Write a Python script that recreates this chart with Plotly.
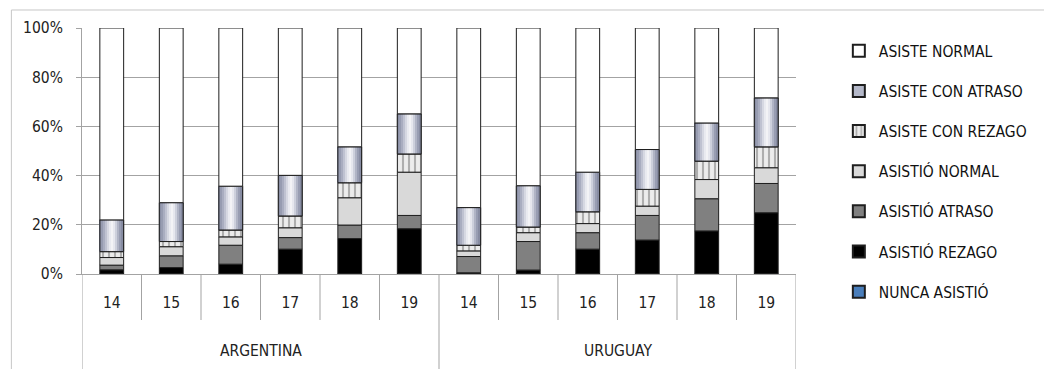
import plotly.graph_objects as go

# Age groups per country (Argentina first, then Uruguay)
countries = ["ARGENTINA"] * 6 + ["URUGUAY"] * 6
ages = ["14", "15", "16", "17", "18", "19"] * 2

# Share of youths (%) in each schooling situation, bottom of the stack first
nunca_asistio = [0.2, 0.2, 0.2, 0.2, 0.2, 0.2, 0.2, 0.2, 0.2, 0.2, 0.2, 0.2]
asistio_rezago = [1.5, 2.4, 3.8, 9.9, 14.2, 18.2, 0.3, 1.4, 9.9, 13.6, 17.3, 24.7]
asistio_atraso = [1.9, 4.8, 7.7, 4.7, 5.5, 5.4, 6.6, 11.6, 6.7, 10.0, 13.1, 11.9]
asistio_normal = [3.1, 3.7, 3.4, 4.0, 11.1, 17.6, 2.3, 3.6, 3.7, 3.8, 7.8, 6.4]
asiste_con_rezago = [2.4, 2.1, 2.8, 4.8, 6.1, 7.4, 2.3, 2.3, 4.8, 6.8, 7.5, 8.5]
asiste_con_atraso = [12.9, 15.8, 17.8, 16.5, 14.6, 16.3, 15.3, 16.8, 16.1, 16.2, 15.5, 19.9]
asiste_normal = [78.0, 71.0, 64.3, 59.9, 48.3, 34.9, 73.0, 64.1, 58.6, 49.4, 38.6, 28.4]

# Value-axis ticks
pct_ticks = [0, 20, 40, 60, 80, 100]
pct_labels = ["0%", "20%", "40%", "60%", "80%", "100%"]

series = [
    ("NUNCA ASISTIÓ", nunca_asistio),
    ("ASISTIÓ REZAGO", asistio_rezago),
    ("ASISTIÓ ATRASO", asistio_atraso),
    ("ASISTIÓ NORMAL", asistio_normal),
    ("ASISTE CON REZAGO", asiste_con_rezago),
    ("ASISTE CON ATRASO", asiste_con_atraso),
    ("ASISTE NORMAL", asiste_normal),
]

FONT = "Liberation Sans Narrow, Arial Narrow, DejaVu Sans Condensed, sans-serif"
FS = 15.5
GRID = "#a3a3a3"
EDGE = "#1e1e1e"
BAR_W = 0.4

x = list(range(len(ages)))

# Cylinder-like shading for the "con atraso" segment, left to right
shade = ["#8b90a6", "#979cb1", "#a9adc0", "#bfc2d1", "#d6d8e2", "#e9eaf0",
         "#f3f3f6", "#e6e7ee", "#cdd0dc", "#b0b4c5", "#989db2", "#878ca2"]

solid_fill = {
    "NUNCA ASISTIÓ": "#4a7ebb",
    "ASISTIÓ REZAGO": "#000000",
    "ASISTIÓ ATRASO": "#808080",
    "ASISTIÓ NORMAL": "#d9d9d9",
    "ASISTE NORMAL": "#ffffff",
}

fig = go.Figure()
base = [0.0] * len(x)
n_series = len(series)
for k, (name, vals) in enumerate(series):
    rank = n_series - k
    common = dict(x=x, y=vals, base=list(base), width=BAR_W, name=name,
                  legendgroup=name, legendrank=rank, hoverinfo="skip")
    if name == "ASISTE CON REZAGO":
        fig.add_trace(go.Bar(
            **common,
            marker=dict(color="#ececec", line=dict(color=EDGE, width=1),
                        pattern=dict(shape="|", fgcolor="#707070", bgcolor="#ececec",
                                     size=6, solidity=0.35)),
        ))
    elif name == "ASISTE CON ATRASO":
        fig.add_trace(go.Bar(
            **common,
            marker=dict(color="#b4b8c9", line=dict(color=EDGE, width=1)),
        ))
        n = len(shade)
        for i, col in enumerate(shade):
            fig.add_trace(go.Bar(
                x=x, y=vals, base=list(base), width=BAR_W / n,
                offset=-BAR_W / 2 + i * BAR_W / n, showlegend=False,
                legendgroup=name, hoverinfo="skip",
                marker=dict(color=col, line=dict(width=0)),
            ))
        fig.add_trace(go.Bar(
            x=x, y=vals, base=list(base), width=BAR_W, showlegend=False,
            legendgroup=name, hoverinfo="skip",
            marker=dict(color="rgba(0,0,0,0)", line=dict(color=EDGE, width=1)),
        ))
    else:
        fig.add_trace(go.Bar(
            **common,
            marker=dict(color=solid_fill[name], line=dict(color=EDGE, width=1)),
        ))
    base = [b + v for b, v in zip(base, vals)]

# Category dividers under the axis: short ones between ages, long ones between countries
shapes = []
for i in range(1, len(x)):
    if i == 6:
        continue
    shapes.append(dict(type="line", xref="x", yref="paper", x0=i - 0.5, x1=i - 0.5,
                       y0=0, y1=-0.187, line=dict(color=GRID, width=1)))
for xv in (-0.5, 5.5, 11.5):
    shapes.append(dict(type="line", xref="x", yref="paper", x0=xv, x1=xv,
                       y0=0, y1=-0.45, line=dict(color=GRID, width=1)))
# Outer chart frame
shapes.append(dict(type="rect", xref="paper", yref="paper", x0=-0.0989, x1=1.6,
                   y0=-0.6, y1=1.0732, line=dict(color="#c6c6c6", width=1),
                   fillcolor="rgba(0,0,0,0)", layer="below"))

# Country labels under each group of ages
annotations = []
for name in ("ARGENTINA", "URUGUAY"):
    idx = [i for i, c in enumerate(countries) if c == name]
    annotations.append(dict(x=(idx[0] + idx[-1]) / 2, y=-0.313, xref="x", yref="paper",
                            text=name, showarrow=False, yanchor="middle",
                            font=dict(family=FONT, size=FS, color="#222")))

fig.update_layout(
    width=1044, height=369,
    margin=dict(l=82, r=244, t=28, b=95),
    paper_bgcolor="white", plot_bgcolor="white",
    barmode="overlay",
    bargap=0.6,
    font=dict(family=FONT, size=FS, color="#222"),
    shapes=shapes,
    annotations=annotations,
    showlegend=True,
    legend=dict(x=1.06, xanchor="left", y=0.975, yanchor="top",
                traceorder="grouped", tracegroupgap=17, maxheight=360,
                font=dict(family=FONT, size=FS, color="#111"),
                bgcolor="rgba(0,0,0,0)", itemsizing="constant"),
)
fig.update_xaxes(
    range=[-0.5, len(x) - 0.5], tickvals=x, ticktext=ages, ticks="",
    showgrid=False, zeroline=False, showline=True, linecolor=GRID, linewidth=1,
    ticklabelstandoff=14, tickfont=dict(family=FONT, size=FS, color="#222"),
)
fig.update_yaxes(
    range=[0, 100], tickvals=pct_ticks, ticktext=pct_labels,
    showgrid=True, gridcolor=GRID, gridwidth=1, zeroline=False,
    showline=True, linecolor=GRID, linewidth=1,
    ticks="outside", ticklen=5, tickcolor=GRID,
    ticklabelstandoff=10, tickfont=dict(family=FONT, size=FS, color="#222"),
)

fig.write_html("out.html")
